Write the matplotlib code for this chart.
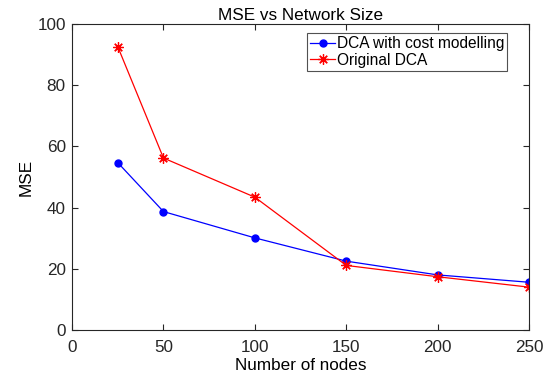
import numpy as np
import matplotlib.pyplot as plt

plt.rcParams['font.family'] = ['Liberation Sans', 'DejaVu Sans']

nodes = [25, 50, 100, 150, 200, 250]
mse_cost = [54.7, 38.7, 30.1, 22.5, 18.0, 15.6]
mse_orig = [92.6, 56.2, 43.4, 21.1, 17.4, 14.0]

fig = plt.figure(figsize=(5.5, 3.75), dpi=100)
ax = fig.add_axes([0.131, 0.12, 0.831, 0.816])

ax.plot(nodes, mse_cost, color='blue', marker='o', markersize=5, linewidth=0.9,
        label='DCA with cost modelling')
ax.plot(nodes, mse_orig, color='red', marker=(8, 2, 0), markersize=7.5, linewidth=0.9,
        markeredgewidth=0.9, label='Original DCA')

ax.set_xlim(0, 250)
ax.set_ylim(0, 100)
ax.set_xticks([0, 50, 100, 150, 200, 250])
ax.set_yticks([0, 20, 40, 60, 80, 100])
ax.tick_params(direction='in', top=True, right=True, labelsize=12.3, color='#262626',
               labelcolor='#262626', length=4)
ax.tick_params(axis='x', pad=7)
ax.tick_params(axis='y', pad=4.5)
for s in ax.spines.values():
    s.set_color('#262626')
    s.set_linewidth(0.8)

ax.set_title('MSE vs Network Size', fontsize=12.3, pad=3)
ax.set_xlabel('Number of nodes', fontsize=12.3, labelpad=2)
ax.set_ylabel('MSE', fontsize=12.3, labelpad=3)

leg = ax.legend(loc='upper right', bbox_to_anchor=(0.952, 0.97), fontsize=11.2,
                frameon=True, fancybox=False, edgecolor='#262626',
                handlelength=1.6, handletextpad=0.1, borderpad=0.2,
                labelspacing=0.1, borderaxespad=0)
leg.get_frame().set_linewidth(0.8)

fig.savefig('out.png')
